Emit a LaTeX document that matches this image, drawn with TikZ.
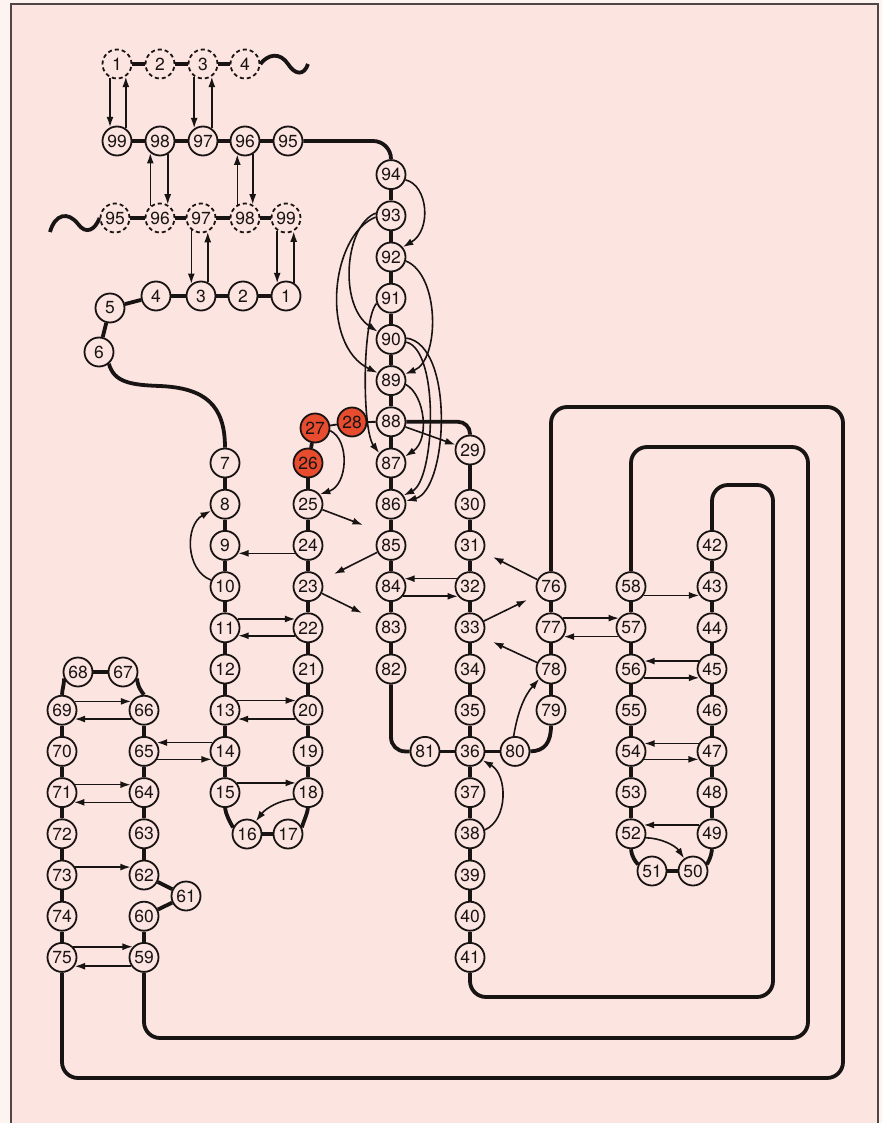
\documentclass[tikz,border=0pt]{standalone}
\usepackage{fontspec}
\setmainfont{TeX Gyre Heros}
\usetikzlibrary{arrows.meta,backgrounds}
\definecolor{bgpink}{RGB}{252,228,224}
\definecolor{outerc}{RGB}{253,243,241}
\definecolor{redc}{RGB}{232,76,46}
\definecolor{framec}{RGB}{80,70,70}
\definecolor{ink}{RGB}{25,20,20}
\begin{document}
\begin{tikzpicture}[x=1pt,y=-1pt,
  res/.style={circle,draw=ink,line width=1.8pt,minimum size=29pt,inner sep=0pt,fill=bgpink,text=ink,font=\fontsize{17.5}{17.5}\selectfont},
  ghost/.style={res,dash pattern=on 4pt off 3pt},
  hot/.style={res,fill=redc},
  bb/.style={draw=ink,line width=3.8pt},
  thinbb/.style={draw=ink,line width=1.8pt},
  arr/.style={draw=ink,line width=1.6pt,-{Latex[length=10.5pt,width=7pt]}},
  framel/.style={draw=framec,line width=1.6pt}
]
\useasboundingbox (0,0) rectangle (882,1123);
% ---------- nodes ----------
% top dashed row
\node[ghost] (a1) at (117,64) {1};
\node[ghost] (a2) at (160,64) {2};
\node[ghost] (a3) at (203,64) {3};
\node[ghost] (a4) at (245,64) {4};
% row 99..95
\node[res] (n99) at (117,141) {99};
\node[res] (n98) at (160,141) {98};
\node[res] (n97) at (203,141) {97};
\node[res] (n96) at (245,141) {96};
\node[res] (n95) at (288,141) {95};
% lower dashed row
\node[ghost] (b95) at (115,218) {95};
\node[ghost] (b96) at (160,218) {96};
\node[ghost] (b97) at (201,218) {97};
\node[ghost] (b98) at (245,218) {98};
\node[ghost] (b99) at (286,218) {99};
% row 5..1
\node[res] (n1) at (286,296) {1};
\node[res] (n2) at (243,296) {2};
\node[res] (n3) at (201,296) {3};
\node[res] (n4) at (156,296) {4};
\node[res] (n5) at (110,308) {5};
\node[res] (n6) at (99,352) {6};
% column 7-15
\node[res] (n7) at (225,463) {7};
\node[res] (n8) at (225,504.2) {8};
\node[res] (n9) at (225,545.4) {9};
\node[res] (n10) at (225,586.6) {10};
\node[res] (n11) at (225,627.8) {11};
\node[res] (n12) at (225,669) {12};
\node[res] (n13) at (225,710.2) {13};
\node[res] (n14) at (225,751.4) {14};
\node[res] (n15) at (225,792.6) {15};
\node[res] (n16) at (247,834) {16};
\node[res] (n17) at (288,834) {17};
% column 18-26
\node[res] (n18) at (308,792.6) {18};
\node[res] (n19) at (308,751.4) {19};
\node[res] (n20) at (308,710.2) {20};
\node[res] (n21) at (308,669) {21};
\node[res] (n22) at (308,627.8) {22};
\node[res] (n23) at (308,586.6) {23};
\node[res] (n24) at (308,545.4) {24};
\node[res] (n25) at (308,504.2) {25};
\node[hot] (n26) at (308,463) {26};
\node[hot] (n27) at (315,428) {27};
\node[hot] (n28) at (352,422) {28};
% column 29-41
\node[res] (n29) at (470,450) {29};
\node[res] (n30) at (470,504.2) {30};
\node[res] (n31) at (470,545.4) {31};
\node[res] (n32) at (470,586.6) {32};
\node[res] (n33) at (470,627.8) {33};
\node[res] (n34) at (470,669) {34};
\node[res] (n35) at (470,710.2) {35};
\node[res] (n36) at (470,751.4) {36};
\node[res] (n37) at (470,792.6) {37};
\node[res] (n38) at (470,833.8) {38};
\node[res] (n39) at (470,875) {39};
\node[res] (n40) at (470,916.2) {40};
\node[res] (n41) at (470,957.4) {41};
% column 42-49
\node[res] (n42) at (712,545.4) {42};
\node[res] (n43) at (712,586.6) {43};
\node[res] (n44) at (712,627.8) {44};
\node[res] (n45) at (712,669) {45};
\node[res] (n46) at (712,710.2) {46};
\node[res] (n47) at (712,751.4) {47};
\node[res] (n48) at (712,792.6) {48};
\node[res] (n49) at (712,833.8) {49};
\node[res] (n50) at (693,871) {50};
\node[res] (n51) at (652,871) {51};
% column 52-58
\node[res] (n52) at (631,833.8) {52};
\node[res] (n53) at (631,792.6) {53};
\node[res] (n54) at (631,751.4) {54};
\node[res] (n55) at (631,710.2) {55};
\node[res] (n56) at (631,669) {56};
\node[res] (n57) at (631,627.8) {57};
\node[res] (n58) at (631,586.6) {58};
% column 59-66
\node[res] (n59) at (144,957.4) {59};
\node[res] (n60) at (144,916.2) {60};
\node[res] (n61) at (186,896) {61};
\node[res] (n62) at (144,875) {62};
\node[res] (n63) at (144,833.8) {63};
\node[res] (n64) at (144,792.6) {64};
\node[res] (n65) at (144,751.4) {65};
\node[res] (n66) at (144,710.2) {66};
\node[res] (n67) at (123,672) {67};
\node[res] (n68) at (78,672) {68};
% column 69-75
\node[res] (n69) at (62,710.2) {69};
\node[res] (n70) at (62,751.4) {70};
\node[res] (n71) at (62,792.6) {71};
\node[res] (n72) at (62,833.8) {72};
\node[res] (n73) at (62,875) {73};
\node[res] (n74) at (62,916.2) {74};
\node[res] (n75) at (62,957.4) {75};
% column 76-79
\node[res] (n76) at (551,586.6) {76};
\node[res] (n77) at (551,627.8) {77};
\node[res] (n78) at (551,669) {78};
\node[res] (n79) at (551,710.2) {79};
\node[res] (n80) at (515,751.4) {80};
\node[res] (n81) at (425,751.4) {81};
% column 82-94
\node[res] (n82) at (391,669) {82};
\node[res] (n83) at (391,627.8) {83};
\node[res] (n84) at (391,586.6) {84};
\node[res] (n85) at (391,545.4) {85};
\node[res] (n86) at (391,504.2) {86};
\node[res] (n87) at (391,463) {87};
\node[res] (n88) at (391,421.8) {88};
\node[res] (n89) at (391,380.6) {89};
\node[res] (n90) at (391,339.4) {90};
\node[res] (n91) at (391,298.2) {91};
\node[res] (n92) at (391,257) {92};
\node[res] (n93) at (391,215.8) {93};
\node[res] (n94) at (391,174.6) {94};
% free arrow ends
\coordinate (t25) at (363,525);
\coordinate (t85) at (334,574);
\coordinate (t23) at (362,613);
\coordinate (t76) at (493,557);
\coordinate (t33) at (527,600);
\coordinate (t78) at (493,642);
\coordinate (wr) at (308,64);
\coordinate (wl) at (50,232);

\begin{pgfonlayer}{background}
% page and frame
\fill[outerc] (0,0) rectangle (882,1123);
\fill[bgpink] (11,4) rectangle (878,1123);
\draw[framel] (11,1123) -- (11,4) -- (878,4) -- (878,1123);

% ---------- backbone ----------
\foreach \a/\b in {a1/a2,a2/a3,a3/a4,b95/b96,b96/b97,b97/b98,b98/b99,
  n99/n98,n98/n97,n97/n96,n96/n95,n1/n2,n2/n3,n3/n4,n4/n5,n5/n6,
  n7/n8,n8/n9,n9/n10,n10/n11,n11/n12,n12/n13,n13/n14,n14/n15,n16/n17,
  n18/n19,n19/n20,n20/n21,n21/n22,n22/n23,n23/n24,n24/n25,n25/n26,n26/n27,
  n29/n30,n30/n31,n31/n32,n32/n33,n33/n34,n34/n35,n35/n36,n36/n37,n37/n38,n38/n39,n39/n40,n40/n41,
  n42/n43,n43/n44,n44/n45,n45/n46,n46/n47,n47/n48,n48/n49,n50/n51,
  n52/n53,n53/n54,n54/n55,n55/n56,n56/n57,n57/n58,
  n59/n60,n60/n61,n61/n62,n62/n63,n63/n64,n64/n65,n65/n66,n67/n68,
  n69/n70,n70/n71,n71/n72,n72/n73,n73/n74,n74/n75,
  n76/n77,n77/n78,n78/n79,n80/n81,
  n82/n83,n83/n84,n84/n85,n85/n86,n86/n87,n87/n88,n88/n89,n89/n90,n90/n91,n91/n92,n92/n93,n93/n94}
  {\draw[bb] (\a) -- (\b);}
\draw[thinbb] (n27) -- (n28);
\draw[thinbb] (n28) -- (n88);
\draw[bb,rounded corners=12pt] (n88.east) -- (470,421.8) -- (n29.north);
\draw[bb,rounded corners=18pt] (n95.east) -- (391,141) -- (n94.north);
\draw[bb,rounded corners=14pt] (n82.south) -- (391,751.4) -- (n81.west);
\draw[bb] (n6.-50) .. controls (114,382) and (130,385) .. (160,386) .. controls (205,388) and (225,405) .. (n7.north);
\draw[bb] (n15.south) .. controls (226,815) and (230,822) .. (n16.155);
\draw[bb] (n17.25) .. controls (302,825) and (307,815) .. (n18.south);
\draw[bb] (n49.south) .. controls (711,858) and (708,862) .. (n50.25);
\draw[bb] (n52.south) .. controls (632,858) and (636,862) .. (n51.155);
\draw[bb] (n67.-25) .. controls (138,688) and (142,692) .. (n66.north);
\draw[bb] (n68.-155) .. controls (64,686) and (62,690) .. (n69.north);
\draw[bb] (n79.south) .. controls (551,742) and (545,751) .. (n80.east);
% long loops
\draw[bb,rounded corners=16pt] (n41.south) -- (470,997) -- (773,997) -- (773,485) -- (712,485) -- (n42.north);
\draw[bb,rounded corners=16pt] (n58.north) -- (631,447) -- (808,447) -- (808,1038) -- (144,1038) -- (n59.south);
\draw[bb,rounded corners=16pt] (n76.north) -- (551,407) -- (843,407) -- (843,1078) -- (62,1078) -- (n75.south);
% chain ends (waves)
\draw[bb] (a4.east) .. controls (268,54) and (280,52) .. (288,64) .. controls (295,75) and (304,76) .. (wr);
\draw[bb] (wl) .. controls (55,214) and (68,211) .. (78,224) .. controls (86,235) and (95,230) .. (b95.west);

% ---------- arrows ----------
\draw[arr] (a1.-117) -- (n99.117);
\draw[arr] (n99.55) -- (a1.-55);
\draw[arr] (a3.-125) -- (n97.125);
\draw[arr] (n97.55) -- (a3.-55);
\draw[arr] (b96.129) -- (n98.-129);
\draw[arr] (n98.-60) -- (b96.60);
\draw[arr] (b98.120) -- (n96.-120);
\draw[arr] (n96.-60) -- (b98.60);
\draw[arr] (b97.-129) -- (n3.129);
\draw[arr] (n3.64) -- (b97.-64);
\draw[arr] (b99.-125) -- (n1.125);
\draw[arr] (n1.60) -- (b99.-60);

\draw[arr] (n94.-20) .. controls (428,185) and (432,230) .. (n92.40);
\draw[arr] (n93.170) .. controls (345,225) and (338,305) .. (n90.150);
\draw[arr] (n93.185) .. controls (330,235) and (320,345) .. (n89.150);
\draw[arr] (n91.200) .. controls (362,320) and (362,430) .. (n87.140);
\draw[arr] (n92.-15) .. controls (440,275) and (440,360) .. (n89.25);
\draw[arr] (n89.-15) .. controls (425,395) and (430,440) .. (n87.25);
\draw[arr] (n90.-10) .. controls (440,350) and (435,480) .. (n86.35);
\draw[arr] (n90.5) .. controls (455,345) and (448,490) .. (n86.12);
\draw[arr] (n88) -- (n29);

\draw[arr] (n27.-10) .. controls (350,440) and (348,485) .. (n25.40);
\draw[arr] (n25) -- (t25);
\draw[arr] (n85) -- (t85);
\draw[arr] (n23) -- (t23);
\draw[arr] (n76) -- (t76);
\draw[arr] (n33) -- (t33);
\draw[arr] (n78) -- (t78);

\draw[arr] (n24.-149) -- (n9.-31);
\draw[arr] (n11.35) -- (n22.145);
\draw[arr] (n22.-149) -- (n11.-31);
\draw[arr] (n13.39) -- (n20.141);
\draw[arr] (n20.-145) -- (n13.-35);
\draw[arr] (n14.145) -- (n65.35);
\draw[arr] (n65.-31) -- (n14.-149);
\draw[arr] (n15.39) -- (n18.141);
\draw[arr] (n69.35) -- (n66.145);
\draw[arr] (n66.-145) -- (n69.-35);
\draw[arr] (n71.31) -- (n64.149);
\draw[arr] (n64.-141) -- (n71.-39);
\draw[arr] (n73.31) -- (n62.149);
\draw[arr] (n75.44) -- (n59.136);
\draw[arr] (n59.-145) -- (n75.-35);
\draw[arr] (n32.149) -- (n84.31);
\draw[arr] (n84.-39) -- (n32.-141);
\draw[arr] (n77.39) -- (n57.141);
\draw[arr] (n57.-145) -- (n77.-35);
\draw[arr] (n58.-35) -- (n43.-145);
\draw[arr] (n45.149) -- (n56.31);
\draw[arr] (n56.-35) -- (n45.-145);
\draw[arr] (n47.149) -- (n54.31);
\draw[arr] (n54.-31) -- (n47.-149);
\draw[arr] (n49.145) -- (n52.35);

\draw[arr] (n10.155) .. controls (185,570) and (185,525) .. (n8.205);
\draw[arr] (n18.205) .. controls (280,800) and (266,808) .. (n16.55);
\draw[arr] (n38.15) .. controls (508,820) and (508,775) .. (n36.-35);
\draw[arr] (n80.95) .. controls (518,710) and (525,695) .. (n78.220);
\draw[arr] (n52.-15) .. controls (660,838) and (675,845) .. (n50.125);
\end{pgfonlayer}
\end{tikzpicture}
\end{document}
